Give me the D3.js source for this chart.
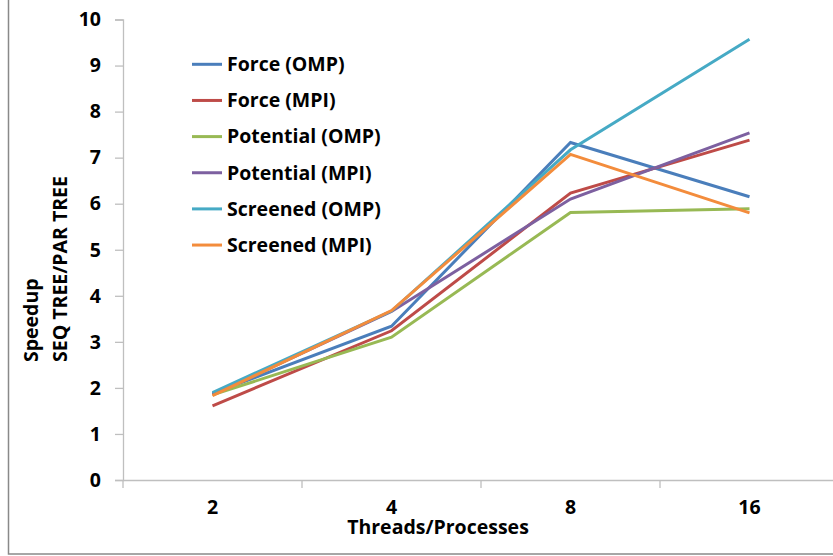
<!DOCTYPE html>
<html>
<head>
<meta charset="utf-8">
<script src="https://cdn.jsdelivr.net/npm/d3@7"></script>
<style>
  body { margin: 0; background: #fff; }
  svg { font-family: "Open Sans", sans-serif; font-weight: bold; }
</style>
</head>
<body>
<svg width="833" height="556"></svg>
<script>
// thread / process counts on the x axis
var threads = ["2", "4", "8", "16"];

var seriesNames = ["Force (OMP)", "Force (MPI)", "Potential (OMP)", "Potential (MPI)", "Screened (OMP)", "Screened (MPI)"];
var colors = ["#4A7EBB", "#BE4B48", "#98B954", "#7D60A0", "#46AAC5", "#F38C3C"];

// speedup per series, one value per thread count
var forceOmp = [1.88, 3.34, 7.33, 6.15];
var forceMpi = [1.61, 3.24, 6.23, 7.38];
var potentialOmp = [1.85, 3.10, 5.81, 5.89];
var potentialMpi = [1.85, 3.66, 6.10, 7.54];
var screenedOmp = [1.90, 3.67, 7.17, 9.57];
var screenedMpi = [1.83, 3.68, 7.07, 5.80];

var yTicks = [0, 1, 2, 3, 4, 5, 6, 7, 8, 9, 10];

var allSeries = [forceOmp, forceMpi, potentialOmp, potentialMpi, screenedOmp, screenedMpi];

var svg = d3.select("svg");
var fontSize = "19.5px";

// outer chart frame
svg.append("rect")
    .attr("x", 8.5).attr("y", -5)
    .attr("width", 840).attr("height", 559)
    .attr("fill", "none")
    .attr("stroke", "#898989")
    .attr("stroke-width", 1.5);

var plotLeft = 123, plotRight = 839, plotTop = 19.5, plotBottom = 480;

var x = d3.scaleBand().domain(threads).range([plotLeft, plotRight]);
var y = d3.scaleLinear().domain([0, 10]).range([plotBottom, plotTop]);

// y axis
var yAxis = svg.append("g")
    .attr("transform", "translate(" + plotLeft + ",0)")
    .call(d3.axisLeft(y).tickValues(yTicks).tickSize(8).tickPadding(14));

// x axis, ticks on band edges
var xAxis = svg.append("g")
    .attr("transform", "translate(0," + plotBottom + ")")
    .call(d3.axisBottom(x).tickSize(0).tickPadding(20));

xAxis.selectAll(".edge")
    .data(d3.range(threads.length + 1))
    .enter().append("line")
    .attr("class", "edge")
    .attr("x1", function(i) { return plotLeft + i * x.step(); })
    .attr("x2", function(i) { return plotLeft + i * x.step(); })
    .attr("y1", 0).attr("y2", 8);

[yAxis, xAxis].forEach(function(a) {
    a.select(".domain").attr("stroke", "#BFBFBF").attr("stroke-width", 1.3);
    a.selectAll("line").attr("stroke", "#BFBFBF").attr("stroke-width", 1.3);
    a.selectAll("text")
        .attr("fill", "#000")
        .style("font-size", "19.5px")
        .style("font-family", "'Open Sans', sans-serif")
        .style("font-weight", "bold");
});

// lines
var line = d3.line()
    .x(function(d, i) { return x(threads[i]) + x.bandwidth() / 2; })
    .y(function(d) { return y(d); });

svg.selectAll(".series")
    .data(allSeries)
    .enter().append("path")
    .attr("class", "series")
    .attr("d", line)
    .attr("fill", "none")
    .attr("stroke", function(d, i) { return colors[i]; })
    .attr("stroke-width", 3)
    .attr("stroke-linejoin", "miter");

// legend
var legend = svg.selectAll(".legend")
    .data(seriesNames)
    .enter().append("g")
    .attr("class", "legend")
    .attr("transform", function(d, i) { return "translate(192," + (64.3 + i * 36.15) + ")"; });

legend.append("line")
    .attr("x1", 0).attr("x2", 30)
    .attr("stroke", function(d, i) { return colors[i]; })
    .attr("stroke-width", 3);

legend.append("text")
    .attr("x", 35)
    .attr("dy", "0.35em")
    .style("font-size", fontSize)
    .text(function(d) { return d; });

// axis titles
svg.append("text")
    .attr("x", 438).attr("y", 534)
    .attr("text-anchor", "middle")
    .style("font-size", fontSize)
    .text("Threads/Processes");

var yTitle = svg.append("text")
    .attr("transform", "translate(38,362) rotate(-90)")
    .style("font-size", fontSize);
yTitle.append("tspan").attr("x", 0).attr("y", 0).text("Speedup");
yTitle.append("tspan").attr("x", 0).attr("y", 29).text("SEQ TREE/PAR TREE");
</script>
</body>
</html>
